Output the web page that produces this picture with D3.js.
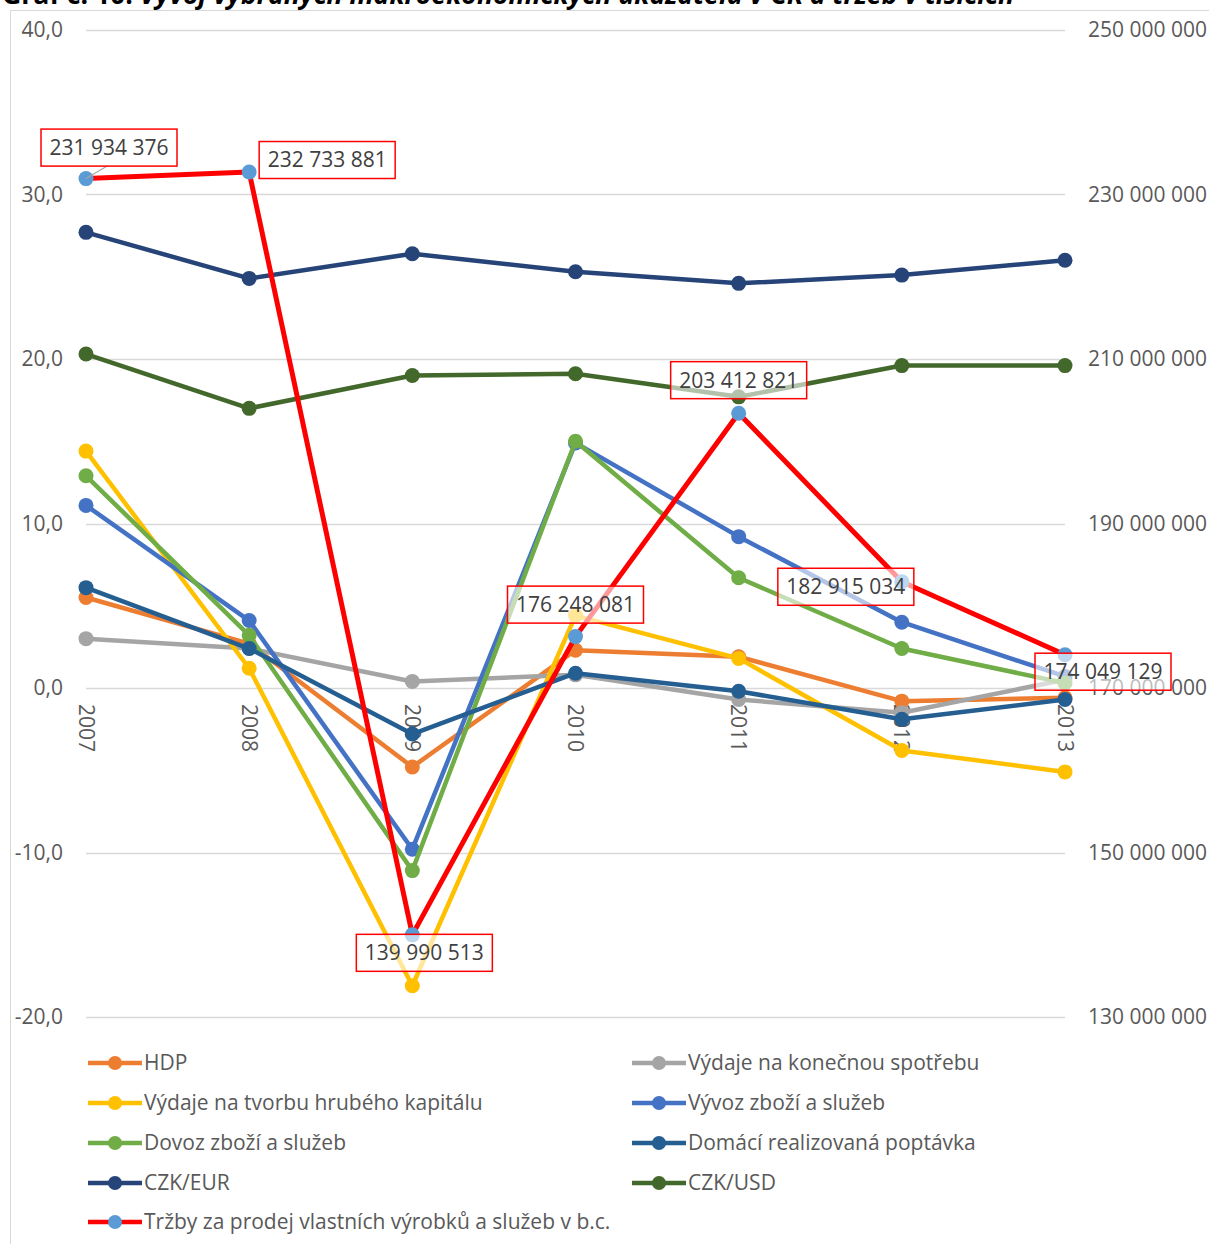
<!DOCTYPE html>
<html><head><meta charset="utf-8">
<script src="https://cdn.jsdelivr.net/npm/d3@7"></script>
<style>
html,body{margin:0;padding:0;background:#fff;overflow:hidden;}
svg{display:block;font-family:"Open Sans",sans-serif;}
</style></head>
<body>
<script>
const years = ["2007","2008","2009","2010","2011","2012","2013"];
const hdp = [5.5, 2.7, -4.8, 2.3, 1.9, -0.8, -0.6];
const spotreba = [3.0, 2.4, 0.4, 0.8, -0.7, -1.5, 0.5];
const kapital = [14.4, 1.2, -18.1, 4.4, 1.8, -3.8, -5.1];
const vyvoz = [11.1, 4.1, -9.8, 14.9, 9.2, 4.0, 0.7];
const dovoz = [12.9, 3.2, -11.1, 15.0, 6.7, 2.4, 0.3];
const domaci = [6.1, 2.4, -2.8, 0.9, -0.2, -1.9, -0.7];
const czkEur = [27.7, 24.9, 26.4, 25.3, 24.6, 25.1, 26.0];
const czkUsd = [20.3, 17.0, 19.0, 19.1, 17.7, 19.6, 19.6];
const trzby = [231934376, 232733881, 139990513, 176248081, 203412821, 182915034, 174049129];
const leftTicks = [-20, -10, 0, 10, 20, 30, 40];
const rightTicks = [130000000, 150000000, 170000000, 190000000, 210000000, 230000000, 250000000];
const seriesNames = ["HDP","Výdaje na konečnou spotřebu","Výdaje na tvorbu hrubého kapitálu","Vývoz zboží a služeb","Dovoz zboží a služeb","Domácí realizovaná poptávka","CZK/EUR","CZK/USD","Tržby za prodej vlastních výrobků a služeb v b.c."];
const titleText = ["Graf č. 10: ", "Vývoj vybraných makroekonomických ukazatelů v ČR a tržeb v tisících"];

const W = 1209, H = 1244;
const FS = 21;
const svg = d3.select("body").append("svg").attr("width", W).attr("height", H);

// title (clipped at top, as in the reference)
const tt = svg.append("text").attr("x", 2).attr("y", 4).attr("font-size", 26).attr("font-weight", "bold")
  .attr("fill", "#000").attr("textLength", 1012).attr("lengthAdjust", "spacingAndGlyphs");
tt.append("tspan").text(titleText[0]);
tt.append("tspan").attr("font-style", "italic").text(titleText[1]);

// chart border
svg.append("rect").attr("x", 10.5).attr("y", 10.5).attr("width", 1230).attr("height", 1260)
  .attr("fill", "#fff").attr("stroke", "#D9D9D9").attr("stroke-width", 1);

const x = d3.scalePoint().domain(years).range([86, 1065]);
const yL = d3.scaleLinear().domain([-20, 40]).range([1017, 30]);
const yR = d3.scaleLinear().domain([130000000, 250000000]).range([1017, 30]);

const fmtL = d => d3.format(".1f")(d).replace(".", ",").replace("−", "-");
const fmtR = d => d3.format(",")(d).replace(/,/g, " ");

// gridlines
svg.append("g").selectAll("line").data(leftTicks).join("line")
  .attr("x1", 86).attr("x2", 1065).attr("y1", d => Math.round(yL(d)) + 0.5).attr("y2", d => Math.round(yL(d)) + 0.5)
  .attr("stroke", "#D9D9D9").attr("stroke-width", 1.5);

// left axis
const axL = svg.append("g").attr("transform", "translate(72,0)")
  .call(d3.axisLeft(yL).tickValues(leftTicks).tickFormat(fmtL).tickSize(0).tickPadding(9));
axL.select(".domain").remove();
axL.selectAll("text").attr("font-size", FS).attr("fill", "#595959").attr("font-family", "Open Sans, sans-serif");

// right axis
const axR = svg.append("g").attr("transform", "translate(1079,0)")
  .call(d3.axisRight(yR).tickValues(rightTicks).tickFormat(fmtR).tickSize(0).tickPadding(9));
axR.select(".domain").remove();
axR.selectAll("text").attr("font-size", FS).attr("fill", "#595959").attr("font-family", "Open Sans, sans-serif");

// category labels (rotated)
svg.append("g").selectAll("text").data(years).join("text")
  .attr("transform", d => `translate(${x(d)},${yL(0) + 16}) rotate(90)`)
  .attr("dy", "0.35em").attr("font-size", FS).attr("fill", "#595959").text(d => d);

const series = [
  {name: seriesNames[0], vals: hdp, color: "#ED7D31", mk: "#ED7D31", axis: yL},
  {name: seriesNames[1], vals: spotreba, color: "#A5A5A5", mk: "#A5A5A5", axis: yL},
  {name: seriesNames[2], vals: kapital, color: "#FFC000", mk: "#FFC000", axis: yL},
  {name: seriesNames[3], vals: vyvoz, color: "#4472C4", mk: "#4472C4", axis: yL},
  {name: seriesNames[4], vals: dovoz, color: "#70AD47", mk: "#70AD47", axis: yL},
  {name: seriesNames[5], vals: domaci, color: "#255E91", mk: "#255E91", axis: yL},
  {name: seriesNames[6], vals: czkEur, color: "#264478", mk: "#264478", axis: yL},
  {name: seriesNames[7], vals: czkUsd, color: "#43682B", mk: "#43682B", axis: yL},
  {name: seriesNames[8], vals: trzby, color: "#FF0000", mk: "#5B9BD5", axis: yR}
];

const gS = svg.append("g");
series.forEach(s => {
  const line = d3.line().x((d, i) => x(years[i])).y(d => s.axis(d));
  const g = gS.append("g");
  g.append("path").attr("d", line(s.vals)).attr("fill", "none").attr("stroke", s.color)
    .attr("stroke-width", s.axis === yR ? 5 : 4.5).attr("stroke-linejoin", "round");
  g.selectAll("circle").data(s.vals).join("circle")
    .attr("cx", (d, i) => x(years[i])).attr("cy", d => s.axis(d)).attr("r", 7.5).attr("fill", s.mk);
});

// data labels for Tržby
const labelOffsets = [[23, -31], [78, -12], [12, 18], [0, -32], [0, -33], [-56, 5], [38, 17]];
const lg = svg.append("g");
// leader line for first label
lg.append("line").attr("x1", x(years[0])).attr("y1", yR(trzby[0]))
  .attr("x2", x(years[0]) + 22).attr("y2", yR(trzby[0]) - 13).attr("stroke", "#A6A6A6").attr("stroke-width", 1.2);
trzby.forEach((v, i) => {
  const cx = x(years[i]) + labelOffsets[i][0], cy = yR(v) + labelOffsets[i][1];
  lg.append("rect").attr("x", cx - 68).attr("y", cy - 18.5).attr("width", 136).attr("height", 37)
    .attr("fill", "#fff").attr("fill-opacity", 0.6).attr("stroke", "#FF0000").attr("stroke-width", 1.5);
  lg.append("text").attr("x", cx).attr("y", cy).attr("dy", "0.35em").attr("text-anchor", "middle")
    .attr("font-size", FS).attr("fill", "#404040").text(fmtR(v));
});

// legend
const legPos = [[86,1063],[630,1063],[86,1103],[630,1103],[86,1143],[630,1143],[86,1183],[630,1183],[86,1222]];
const leg = svg.append("g");
series.forEach((s, i) => {
  const [lx, ly] = legPos[i];
  leg.append("line").attr("x1", lx + 2).attr("x2", lx + 56).attr("y1", ly).attr("y2", ly)
    .attr("stroke", s.color).attr("stroke-width", 4.5);
  leg.append("circle").attr("cx", lx + 29).attr("cy", ly).attr("r", 7).attr("fill", s.mk);
  leg.append("text").attr("x", lx + 58).attr("y", ly).attr("dy", "0.35em").attr("font-size", FS)
    .attr("fill", "#595959").text(s.name);
});
</script>
</body></html>
